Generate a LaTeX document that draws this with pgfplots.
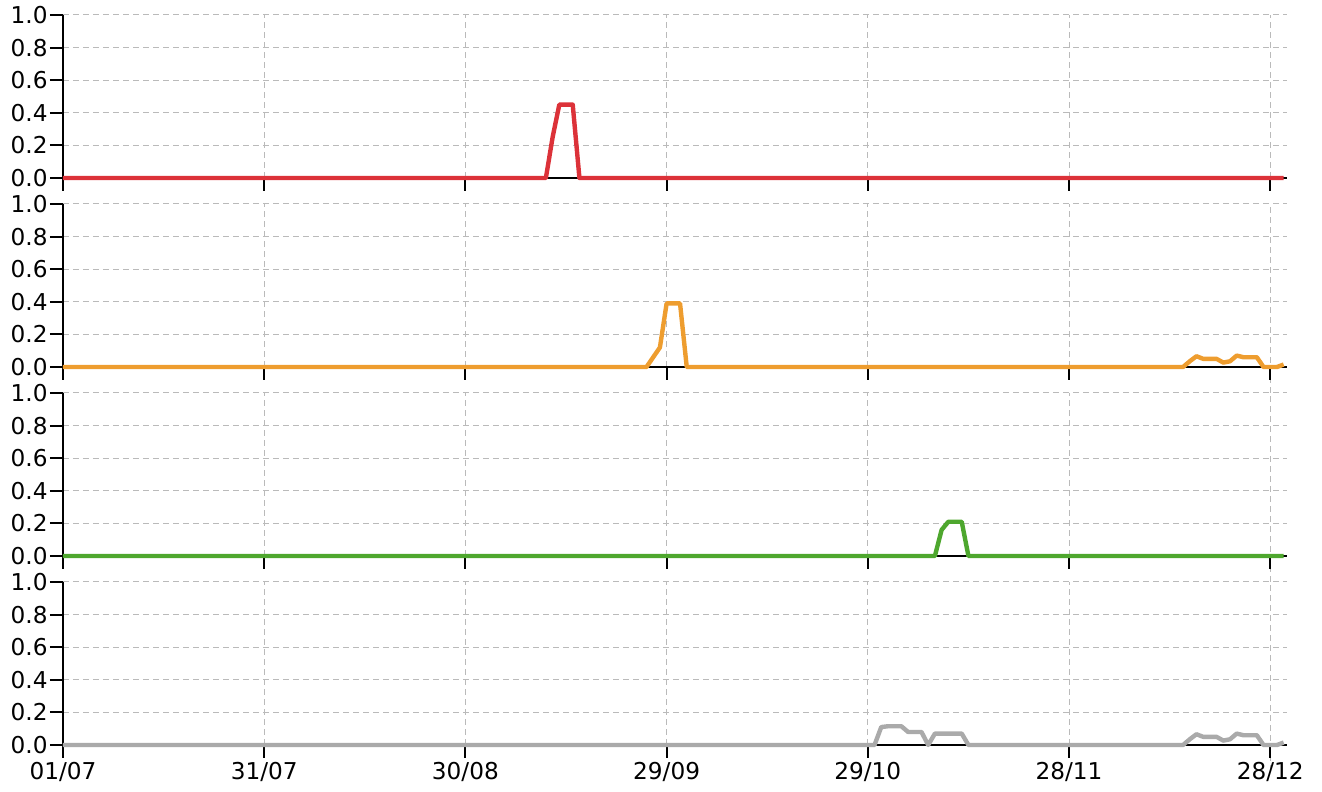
\documentclass[border=0pt]{standalone}
\usepackage{fontspec}
\setmainfont{DejaVu Sans}
\usepackage{pgfplots}
\pgfplotsset{compat=1.18}
\definecolor{cred}{RGB}{220,50,57}
\definecolor{corange}{RGB}{238,157,47}
\definecolor{cgreen}{RGB}{78,167,46}
\definecolor{cgray}{RGB}{170,170,170}
\pgfplotsset{panel/.style={
  scale only axis, width=612pt, height=81.5pt,
  xmin=0, xmax=182.5, ymin=0, ymax=1, clip=false,
  axis x line=bottom, axis y line=left,
  x axis line style={-, line width=1pt},
  y axis line style={-, line width=1pt},
  hide obscured x ticks=false, hide obscured y ticks=false,
  xtick={0,30,60,90,120,150,180}, ytick={0,0.2,0.4,0.6,0.8,1},
  tick align=outside, major tick length=6.5pt,
  tick style={black, line width=1pt},
  grid=major,
  major grid style={black!27, dash pattern=on 3pt off 2pt, line width=0.5pt},
  major x grid style={shorten <=-13pt},
  tick label style={font=\fontsize{11.6}{14}\selectfont},
  yticklabel style={inner sep=1pt,/pgf/number format/.cd, fixed, fixed zerofill, precision=1, assume math mode=true},
  xticklabel style={inner sep=2pt},
  every axis plot/.append style={line width=2.2pt, line join=round, no marks},
}}
\begin{document}
\begin{tikzpicture}
\path[use as bounding box] (-31.5pt,-23.5pt) rectangle (629.5pt,372.5pt);
% panel 1
\begin{axis}[panel, at={(0,283.5pt)}, xticklabels={}, major x grid style={shorten <=0pt}]
\addplot[cred] coordinates {(0,0) (72,0) (73,0.25) (74,0.45) (76,0.45) (77,0) (182,0)};
\end{axis}
% panel 2
\begin{axis}[panel, at={(0,189pt)}, xticklabels={}]
\addplot[corange] coordinates {(0,0) (87,0) (88,0.06) (89,0.12) (90,0.39) (92,0.39) (93,0)
 (167,0) (168,0.035) (169,0.066) (170,0.05) (171,0.05) (172,0.05) (173,0.027) (174,0.035)
 (175,0.07) (176,0.06) (177,0.06) (178,0.06) (179,0) (180,0) (181,0) (182,0.015)};
\end{axis}
% panel 3
\begin{axis}[panel, at={(0,94.5pt)}, xticklabels={}]
\addplot[cgreen] coordinates {(0,0) (130,0) (131,0.16) (132,0.21) (134,0.21) (135,0) (182,0)};
\end{axis}
% panel 4
\begin{axis}[panel, at={(0,0)}, xticklabels={01/07,31/07,30/08,29/09,29/10,28/11,28/12}]
\addplot[cgray] coordinates {(0,0) (121,0) (122,0.11) (123,0.115) (125,0.115) (126,0.08) (128,0.08)
 (129,0) (130,0.07) (134,0.07) (135,0)
 (167,0) (168,0.035) (169,0.066) (170,0.05) (171,0.05) (172,0.05) (173,0.027) (174,0.035)
 (175,0.07) (176,0.06) (177,0.06) (178,0.06) (179,0) (180,0) (181,0) (182,0.015)};
\end{axis}
\end{tikzpicture}
\end{document}
